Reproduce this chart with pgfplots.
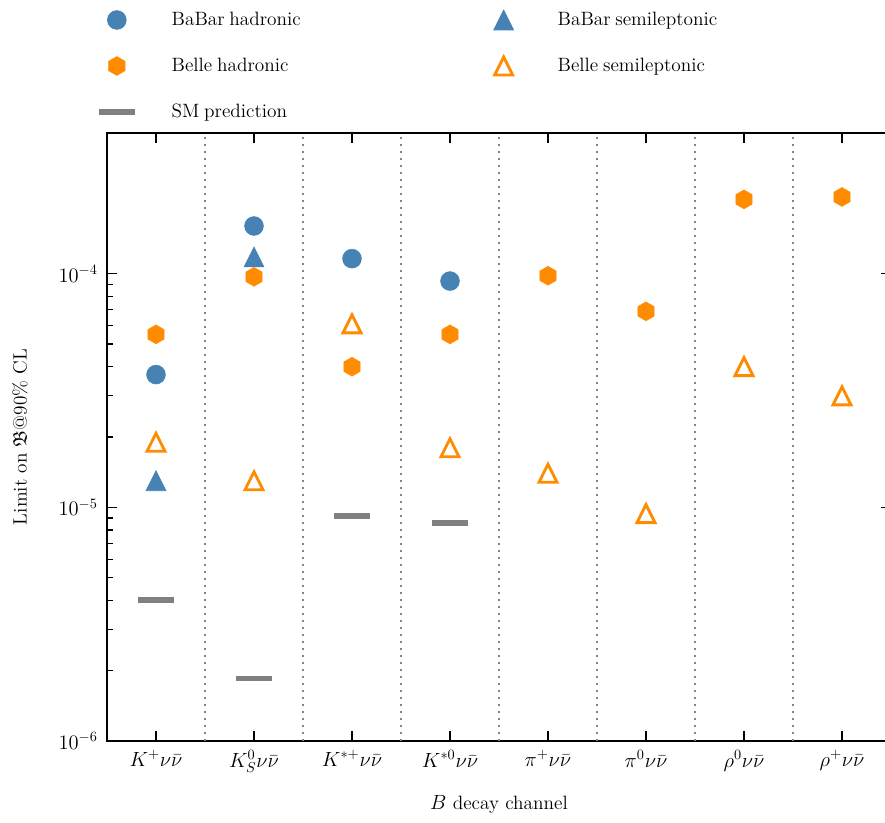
\documentclass[border=0pt]{standalone}
\usepackage{fontspec}
\usepackage{pgfplots}
\pgfplotsset{compat=1.18}
\usepackage{amssymb}
\definecolor{sblue}{HTML}{4682B4}
\definecolor{dorange}{HTML}{FF8C00}
\definecolor{smgray}{HTML}{808080}
\definecolor{sepcol}{HTML}{778899}
\newcommand{\lf}{\fontsize{13.5}{15}\selectfont}
\pgfdeclareplotmark{hexagon}{%
 \pgfpathmoveto{\pgfqpointpolar{90}{\pgfplotmarksize}}%
 \pgfpathlineto{\pgfqpointpolar{150}{\pgfplotmarksize}}%
 \pgfpathlineto{\pgfqpointpolar{210}{\pgfplotmarksize}}%
 \pgfpathlineto{\pgfqpointpolar{270}{\pgfplotmarksize}}%
 \pgfpathlineto{\pgfqpointpolar{330}{\pgfplotmarksize}}%
 \pgfpathlineto{\pgfqpointpolar{30}{\pgfplotmarksize}}%
 \pgfpathclose\pgfusepathqfillstroke}
\pgfdeclareplotmark{mtri*}{%
 \pgfpathmoveto{\pgfqpoint{0pt}{\pgfplotmarksize}}%
 \pgfpathlineto{\pgfqpoint{-\pgfplotmarksize}{-\pgfplotmarksize}}%
 \pgfpathlineto{\pgfqpoint{\pgfplotmarksize}{-\pgfplotmarksize}}%
 \pgfpathclose\pgfusepathqfillstroke}
\pgfdeclareplotmark{mtri}{%
 \pgfpathmoveto{\pgfqpoint{0pt}{\pgfplotmarksize}}%
 \pgfpathlineto{\pgfqpoint{-\pgfplotmarksize}{-\pgfplotmarksize}}%
 \pgfpathlineto{\pgfqpoint{\pgfplotmarksize}{-\pgfplotmarksize}}%
 \pgfpathclose\pgfusepathqstroke}
\pgfplotsset{mylegend/.style={legend image code/.code={\path[draw=none,fill=none] (-12pt,-8pt) rectangle (12pt,8pt);\draw[##1] plot coordinates {(0pt,0pt)};}}}
\begin{document}
\begin{tikzpicture}
\useasboundingbox (0,0) rectangle (619.5pt,576.1pt);
\begin{axis}[
 at={(74.9pt,57.4pt)}, anchor=south west,
 scale only axis, width=548.8pt, height=425.6pt,
 ymode=log, ymin=1e-6, ymax=4e-4,
 xmin=-0.5, xmax=7.5,
 xtick={0,...,7},
 xticklabels={$K^+\nu\bar\nu$,$K^0_S\nu\bar\nu$,$K^{*+}\nu\bar\nu$,$K^{*0}\nu\bar\nu$,$\pi^+\nu\bar\nu$,$\pi^0\nu\bar\nu$,$\rho^0\nu\bar\nu$,$\rho^+\nu\bar\nu$},
 extra x ticks={0.5,1.5,...,6.5}, extra x tick labels={},
 extra x tick style={grid=major, major tick length=0pt, major grid style={sepcol, line width=1.1pt, dash pattern=on 1.1pt off 3.8pt}},
 ytick={1e-6,1e-5,1e-4},
 axis line style={line width=1pt},
 every tick/.style={black, line width=0.8pt},
 major tick length=7pt, minor tick length=4pt,
 tick label style={font=\fontsize{14}{16}\selectfont},
 xticklabel style={yshift=-3pt},
 yticklabel style={xshift=-3pt},
 xlabel={\lf $B$ decay channel},
 xlabel style={at={(axis description cs:0.5,-0.105)}, anchor=center},
 ylabel={\lf Limit on $\mathfrak{B}$@90\% CL},
 ylabel style={at={(axis description cs:-0.111,0.5)}, anchor=center},
 legend columns=2,
 legend cell align=left,
 legend style={draw=none, fill=none, at={(axis description cs:-0.0104,1.2047)}, anchor=north west,
   inner sep=0pt, outer sep=0pt, row sep=16.2pt,
   nodes={inner sep=0pt, text width=130pt, align=left},
   /tikz/every odd column/.style={column sep=25.8pt},
   /tikz/every even column/.style={column sep=90.4pt}},
]
\addplot[only marks, mark=*, mark size=6.6pt, color=sblue, mylegend] coordinates {(0,3.7e-5) (1,1.6e-4) (2,1.16e-4) (3,9.3e-5)};
\addlegendentry{\lf BaBar hadronic}
\addplot[only marks, mark=mtri*, mark size=7pt, color=sblue, mylegend] coordinates {(0,1.3e-5) (1,1.18e-4)};
\addlegendentry{\lf BaBar semileptonic}
\addplot[only marks, mark=hexagon, mark size=6.6pt, color=dorange, mylegend] coordinates {(0,5.5e-5) (1,9.7e-5) (2,4.0e-5) (3,5.5e-5) (4,9.8e-5) (5,6.9e-5) (6,2.08e-4) (7,2.13e-4)};
\addlegendentry{\lf Belle hadronic}
\addplot[only marks, mark=mtri, mark size=6.3pt, color=dorange, mark options={line width=2pt}, mylegend] coordinates {(0,1.9e-5) (1,1.3e-5) (2,6.1e-5) (3,1.8e-5) (4,1.4e-5) (5,9.4e-6) (6,4.0e-5) (7,3.0e-5)};
\addlegendentry{\lf Belle semileptonic}
\addplot[only marks, mark=-, mark size=12.6pt, color=smgray, mark options={line width=4pt}, mylegend] coordinates {(0,4.0e-6) (1,1.85e-6) (2,9.2e-6) (3,8.6e-6)};
\addlegendentry{\lf SM prediction}
\end{axis}
\end{tikzpicture}
\end{document}
